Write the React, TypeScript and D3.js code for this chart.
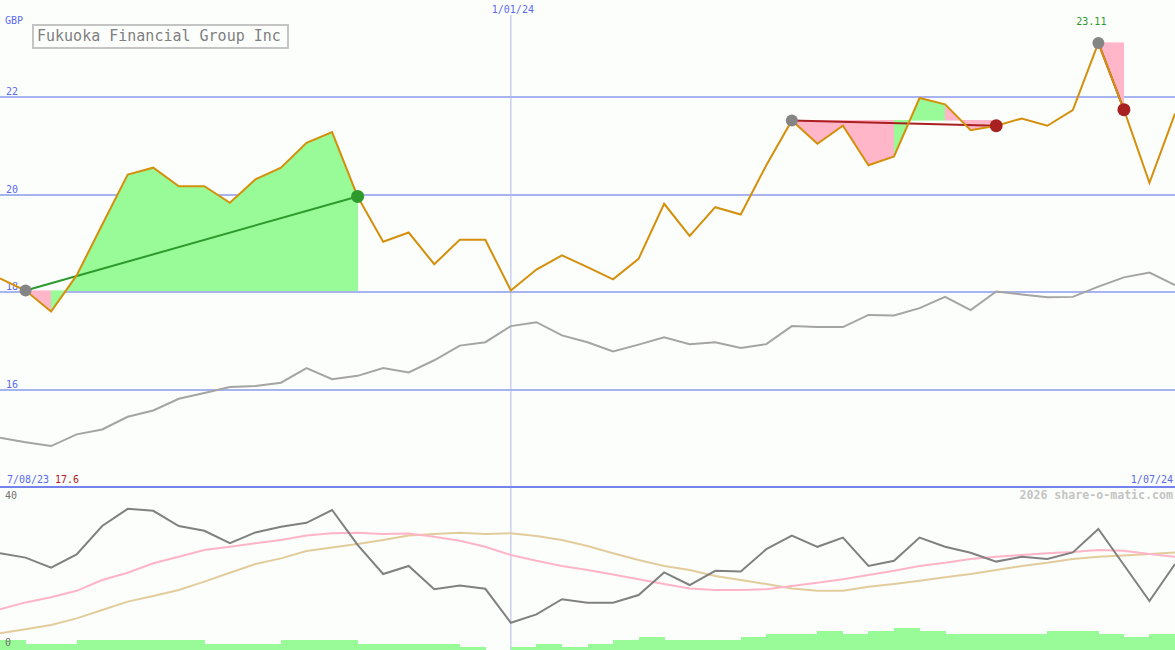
import React from 'react';
import * as d3 from 'd3';

// Weekly dates (Mondays) 14 Aug 2023 .. 1 Jul 2024
const dates: Date[] = d3.timeMonday.range(new Date(2023, 7, 14), new Date(2024, 6, 2));

const price = [18.28, 18.03, 17.60, 18.34, 19.38, 20.41, 20.55, 20.17, 20.17, 19.83, 20.31, 20.55, 21.06, 21.28, 19.96, 19.03, 19.22, 18.57, 19.07, 19.07, 18.03, 18.46, 18.75, 18.51, 18.26, 18.68, 19.81, 19.15, 19.74, 19.59, 20.6, 21.52, 21.04, 21.41, 20.60, 20.78, 21.98, 21.85, 21.32, 21.41, 21.56, 21.41, 21.73, 23.11, 21.74, 20.24, 21.66];

const relative = [15.01, 14.92, 14.84, 15.08, 15.18, 15.44, 15.57, 15.81, 15.93, 16.05, 16.07, 16.14, 16.44, 16.21, 16.28, 16.44, 16.35, 16.60, 16.90, 16.97, 17.30, 17.38, 17.11, 16.97, 16.78, 16.92, 17.07, 16.93, 16.97, 16.85, 16.93, 17.30, 17.28, 17.28, 17.53, 17.52, 17.67, 17.90, 17.63, 18.01, 17.95, 17.89, 17.90, 18.11, 18.30, 18.40, 18.14];

const oscillator = [24.2, 23.1, 20.6, 23.9, 31.0, 35.3, 34.8, 31.0, 29.8, 26.7, 29.4, 30.8, 31.8, 35.0, 26.3, 19.0, 21.0, 15.2, 16.1, 15.3, 6.8, 8.9, 12.7, 11.8, 11.8, 13.75, 19.4, 16.25, 19.8, 19.6, 25.2, 28.6, 25.8, 28.1, 21.0, 22.3, 28.1, 25.8, 24.3, 22.1, 23.3, 22.75, 24.4, 30.25, 21.25, 12.25, 21.5];

const avgFast = [10.2, 11.9, 13.2, 14.8, 17.5, 19.3, 21.7, 23.3, 25.0, 25.8, 26.7, 27.5, 28.6, 29.2, 29.3, 29.0, 29.1, 28.3, 27.3, 25.8, 23.75, 22.3, 21.0, 20.0, 18.9, 17.7, 16.5, 15.4, 15.0, 15.0, 15.2, 16.0, 16.8, 17.7, 18.75, 19.8, 21.0, 21.8, 22.75, 23.3, 23.75, 24.2, 24.5, 25.0, 24.8, 24.0, 23.3];

const avgSlow = [4.2, 5.2, 6.25, 7.9, 10.0, 12.1, 13.5, 15.0, 17.1, 19.3, 21.5, 22.9, 24.75, 25.6, 26.5, 27.5, 28.6, 29.0, 29.3, 29.0, 29.2, 28.5, 27.5, 26.0, 24.2, 22.5, 21.0, 20.0, 18.5, 17.5, 16.5, 15.4, 14.8, 14.8, 15.8, 16.5, 17.3, 18.2, 19.0, 20.0, 21.0, 21.8, 22.75, 23.3, 23.6, 24.0, 24.4];

const volume = [3, 2, 2, 3, 3, 3, 3, 3, 2, 2, 2, 3, 3, 3, 2, 2, 2, 2, 1, 0, 1, 2, 1, 2, 3, 4, 3, 3, 3, 4, 5, 5, 6, 5, 6, 7, 6, 5, 5, 5, 5, 6, 6, 5, 4, 5, 5];

const priceTicks = [22, 20, 18, 16];
const trendStarts = [1, 31, 43];
const trendEnds = [14, 39, 44];

const W = 1175;
const H = 650;
const FONT = '"DejaVu Sans Mono", "Liberation Mono", monospace';

export default function App() {
  const x = d3.scaleTime().domain([dates[0], dates[dates.length - 1]]).range([0, W]);
  const yP = d3.scaleLinear().domain([14, 24]).range([487, -0.5]);
  const yL = d3.scaleLinear().domain([0, 40]).range([650, 490]);
  const yV = d3.scaleLinear().domain([0, 50]).range([650, 490]);
  const xi = (i: number) => x(dates[i]);

  const priceLine = d3.line<number>().x((_, i) => xi(i)).y((d) => yP(d))(price) || '';
  const relLine = d3.line<number>().x((_, i) => xi(i)).y((d) => yP(d))(relative) || '';
  const lowLine = (arr: number[]) => d3.line<number>().x((_, i) => xi(i)).y((d) => yL(d))(arr) || '';

  const xJan = x(new Date(2024, 0, 1));
  const maxI = d3.maxIndex(price);
  const minV = d3.min(price) as number;

  const poly = d3.line<[number, number]>();

  return (
    <div style={{ position: 'absolute', left: 0, top: 0 }}>
      <svg width={W} height={H} style={{ display: 'block' }}>
        <rect x={0} y={0} width={W} height={H} fill="#fcfefc" />
        {/* grid */}
        {priceTicks.map((t) => (
          <g key={t}>
            <line x1={0} x2={W} y1={Math.round(yP(t))} y2={Math.round(yP(t))} stroke="#a8b4f0" strokeWidth={2} />
            <text x={6} y={Math.round(yP(t)) - 2} fontFamily={FONT} fontSize={10} fill="#5a6af0">{t}</text>
          </g>
        ))}
        <line x1={xJan} x2={xJan} y1={15} y2={H} stroke="#b0b8e8" strokeWidth={1} />
        <line x1={0} x2={W} y1={487} y2={487} stroke="#7484ec" strokeWidth={2} />

        {/* trend fills */}
        {trendStarts.map((s, k) => {
          const e = trendEnds[k];
          const base = price[s];
          const segs = [];
          for (let i = s; i < e; i++) {
            const col = price[i + 1] >= base ? '#98fb98' : '#ffb6c8';
            const pts: [number, number][] = [
              [xi(i), yP(base)],
              [xi(i), yP(price[i])],
              [xi(i + 1), yP(price[i + 1])],
              [xi(i + 1), yP(base)],
            ];
            segs.push(<path key={i} d={(poly(pts) || '') + 'Z'} fill={col} stroke={col} strokeWidth={0.6} shapeRendering="crispEdges" />);
          }
          return <g key={k}>{segs}</g>;
        })}

        {/* relative line */}
        <path d={relLine} fill="none" stroke="#a4a4a4" strokeWidth={2} />

        {/* trend lines */}
        {trendStarts.map((s, k) => {
          const e = trendEnds[k];
          const up = price[e] > price[s];
          const col = up ? '#2c9a2c' : '#a82020';
          return <line key={k} x1={xi(s)} y1={yP(price[s])} x2={xi(e)} y2={yP(price[e])} stroke={col} strokeWidth={2} />;
        })}

        {/* price line */}
        <path d={priceLine} fill="none" stroke="#d4900c" strokeWidth={2} />

        {/* trend dots */}
        {trendStarts.map((s, k) => {
          const e = trendEnds[k];
          const up = price[e] > price[s];
          const col = up ? '#2c9a2c' : '#a82020';
          return (
            <g key={k}>
              <circle cx={xi(s)} cy={yP(price[s])} r={6} fill="#858585" />
              <circle cx={xi(e)} cy={yP(price[e])} r={6.5} fill={col} />
            </g>
          );
        })}

        {/* labels */}
        <text x={5} y={24} fontFamily={FONT} fontSize={10} fill="#5a6af0">GBP</text>
        <rect x={33} y={25} width={255} height={23} fill="#fcfefc" stroke="#c4c4c4" strokeWidth={2} />
        <text x={37} y={41} fontFamily={FONT} fontSize={15} fill="#808080">Fukuoka Financial Group Inc</text>
        <text x={xJan + 2} y={13} textAnchor="middle" fontFamily={FONT} fontSize={10} fill="#5a6af0">1/01/24</text>
        <text x={xi(maxI) - 7} y={25} textAnchor="middle" fontFamily={FONT} fontSize={10} fill="#2c9a2c">{price[maxI].toFixed(2)}</text>
        <text x={7} y={483} fontFamily={FONT} fontSize={10} fill="#5a6af0">7/08/23</text>
        <text x={55} y={483} fontFamily={FONT} fontSize={10} fill="#b02020">{minV.toFixed(1)}</text>
        <text x={1173} y={483} textAnchor="end" fontFamily={FONT} fontSize={10} fill="#5a6af0">1/07/24</text>
        <text x={1173} y={499} textAnchor="end" fontFamily={FONT} fontSize={11.6} fontWeight="bold" fill="#c4c4c4">2026 share-o-matic.com</text>
        <text x={5} y={499} fontFamily={FONT} fontSize={10} fill="#707070">40</text>

        {/* volume */}
        {volume.map((v, i) => {
          const x0 = xi(i);
          const x1 = i + 1 < dates.length ? xi(i + 1) : W;
          return v > 0 ? (
            <rect key={i} x={x0} y={yV(v)} width={Math.max(0, x1 - x0) + 0.5} height={yV(0) - yV(v)} fill="#98fb98" shapeRendering="crispEdges" />
          ) : null;
        })}
        <text x={5} y={646} fontFamily={FONT} fontSize={10} fill="#707070">0</text>

        {/* lower panel lines */}
        <path d={lowLine(avgSlow)} fill="none" stroke="#e2cc9c" strokeWidth={2} />
        <path d={lowLine(avgFast)} fill="none" stroke="#ffb4c8" strokeWidth={2} />
        <path d={lowLine(oscillator)} fill="none" stroke="#808080" strokeWidth={2} />
      </svg>
    </div>
  );
}
